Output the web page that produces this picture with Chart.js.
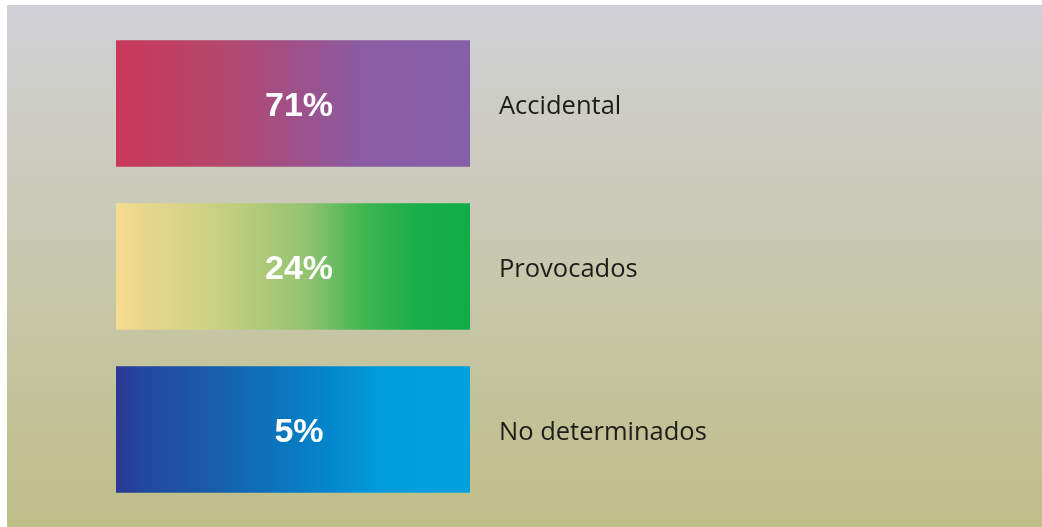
<!DOCTYPE html>
<html lang="es">
<head>
<meta charset="utf-8">
<title>Origen de los incendios</title>
<script src="https://cdn.jsdelivr.net/npm/chart.js@4.4.1/dist/chart.umd.min.js"></script>
<style>
  html, body { margin: 0; padding: 0; background: #ffffff; }
  canvas { display: block; }
</style>
</head>
<body>
<canvas id="chart" width="1042" height="527"></canvas>
<script>
// Causes and their share of the total
const categories = ['Accidental', 'Provocados', 'No determinados'];
const values = [71, 24, 5];

// Horizontal colour ramps for each bar (offset, colour)
const ramps = [
  [[0, '#c9385a'], [0.3, '#b4476c'], [0.5, '#a05088'], [0.7, '#8a5ca4'], [1, '#865fa9']],
  [[0, '#f6dc90'], [0.1, '#e4d68a'], [0.25, '#cfd283'], [0.4, '#b2ca7a'], [0.55, '#8fc270'], [0.7, '#3fb650'], [0.85, '#18ae4a'], [1, '#0fad49']],
  [[0, '#2c3893'], [0.08, '#21489f'], [0.25, '#1a5aa8'], [0.45, '#0b74bc'], [0.6, '#0486cc'], [0.75, '#009ddc'], [1, '#00a0e0']]
];

function rampFill(i) {
  return function (ctx) {
    const chart = ctx.chart;
    const scale = chart.scales['x' + i];
    if (!chart.chartArea || !scale) return ramps[i][0][1];
    const x0 = scale.getPixelForValue(0);
    const x1 = scale.getPixelForValue(values[i]);
    const g = chart.ctx.createLinearGradient(x0, 0, x1, 0);
    ramps[i].forEach(([o, c]) => g.addColorStop(o, c));
    return g;
  };
}

// Each bar is measured against its own axis, so every card spans the same width
const datasets = categories.map((name, i) => ({
  label: name,
  data: categories.map((_, j) => (j === i ? values[i] : null)),
  xAxisID: 'x' + i,
  backgroundColor: rampFill(i),
  borderWidth: 0,
  barThickness: 126,
  grouped: false
}));

const scales = {
  y: { type: 'category', display: false, offset: true, grid: { display: false } }
};
values.forEach((v, i) => {
  scales['x' + i] = { type: 'linear', axis: 'x', display: false, min: 0, max: v };
});

// Soft grey-to-olive panel behind the chart
const panel = {
  id: 'panel',
  beforeDraw(chart) {
    const { ctx, width, height } = chart;
    ctx.save();
    ctx.fillStyle = '#ffffff';
    ctx.fillRect(0, 0, width, height);
    const g = ctx.createLinearGradient(0, 5, 0, height);
    g.addColorStop(0, '#d0d0d6');
    g.addColorStop(0.5, '#c8c8ae');
    g.addColorStop(1, '#bebe88');
    ctx.fillStyle = g;
    ctx.fillRect(7, 5, width - 7, height - 5);
    ctx.restore();
  }
};

// Percentages inside the bars and cause names to their right
const barLabels = {
  id: 'barLabels',
  afterDatasetsDraw(chart) {
    const { ctx } = chart;
    ctx.save();
    categories.forEach((name, i) => {
      const bar = chart.getDatasetMeta(i).data[i];
      if (!bar) return;
      const left = Math.min(bar.x, bar.base);
      const right = Math.max(bar.x, bar.base);
      const cy = bar.y;

      ctx.fillStyle = '#ffffff';
      ctx.font = 'bold 34px "Liberation Sans", Arial, sans-serif';
      ctx.textAlign = 'center';
      ctx.textBaseline = 'middle';
      ctx.fillText(values[i] + '%', (left + right) / 2 + 6, cy + 3);

      ctx.fillStyle = '#1c1c1a';
      ctx.font = '25.5px "Open Sans", "Noto Sans", sans-serif';
      ctx.textAlign = 'left';
      ctx.fillText(name, right + 29, cy + 3);
    });
    ctx.restore();
  }
};

new Chart(document.getElementById('chart'), {
  type: 'bar',
  data: { labels: categories, datasets },
  options: {
    indexAxis: 'y',
    responsive: false,
    animation: false,
    layout: { padding: { left: 116, right: 572, top: 22, bottom: 16 } },
    scales,
    plugins: {
      legend: { display: false },
      tooltip: { enabled: false }
    }
  },
  plugins: [panel, barLabels]
});
</script>
</body>
</html>
